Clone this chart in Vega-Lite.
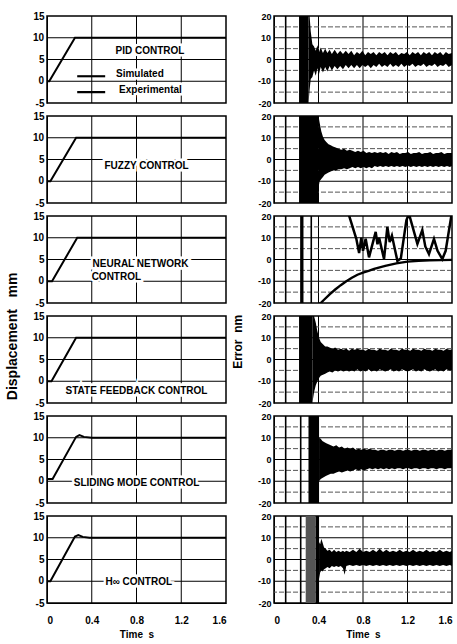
{
  "$schema": "https://vega.github.io/schema/vega-lite/v6.json",
  "padding": {"left": 5, "top": 11, "right": 0, "bottom": 0},
  "background": "white",
  "config": {
    "font": "Liberation Sans",
    "view": {"stroke": "black", "strokeWidth": 1.5},
    "axis": {
      "labelFont": "Liberation Sans", "labelFontWeight": "bold", "labelFontSize": 10, "labelColor": "black",
      "tickSize": 0, "domainColor": "black", "labelSeparation": -1000,
      "titleFont": "Liberation Sans", "titleFontWeight": "bold", "titleColor": "black", "titleFontSize": 10, "labelPadding": 3
    },
    "header": {"titleFont": "Liberation Sans", "titleFontWeight": "bold", "titleColor": "black"}
  },
  "datasets": {
    "left": [
      {"panel": 1, "kind": "line", "series": "Simulated", "t": 0, "v": 0},
      {"panel": 1, "kind": "line", "series": "Simulated", "t": 0.02, "v": 0},
      {"panel": 1, "kind": "line", "series": "Simulated", "t": 0.25, "v": 10},
      {"panel": 1, "kind": "line", "series": "Simulated", "t": 1.6, "v": 10},
      {"panel": 1, "kind": "line", "series": "legSim", "t": 0.27, "v": 1.15},
      {"panel": 1, "kind": "line", "series": "legSim", "t": 0.52, "v": 1.15},
      {"panel": 1, "kind": "line", "series": "legExp", "t": 0.27, "v": -2.5},
      {"panel": 1, "kind": "line", "series": "legExp", "t": 0.52, "v": -2.5},
      {"panel": 1, "kind": "text", "t": 0.92, "v": 7, "label": "PID CONTROL"},
      {"panel": 1, "kind": "text", "t": 0.83, "v": 1.7, "label": "Simulated"},
      {"panel": 1, "kind": "text", "t": 0.925, "v": -2.1, "label": "Experimental"},
      {"panel": 2, "kind": "line", "series": "Simulated", "t": 0, "v": 0},
      {"panel": 2, "kind": "line", "series": "Simulated", "t": 0.03, "v": 0},
      {"panel": 2, "kind": "line", "series": "Simulated", "t": 0.26, "v": 10},
      {"panel": 2, "kind": "line", "series": "Simulated", "t": 1.6, "v": 10},
      {"panel": 2, "kind": "text", "t": 0.89, "v": 3.6, "label": "FUZZY CONTROL"},
      {"panel": 3, "kind": "line", "series": "Simulated", "t": 0, "v": 0},
      {"panel": 3, "kind": "line", "series": "Simulated", "t": 0.045, "v": 0},
      {"panel": 3, "kind": "line", "series": "Simulated", "t": 0.27, "v": 10},
      {"panel": 3, "kind": "line", "series": "Simulated", "t": 1.6, "v": 10},
      {"panel": 3, "kind": "text", "t": 0.836, "v": 4, "label": "NEURAL NETWORK"},
      {"panel": 3, "kind": "text", "t": 0.62, "v": 0.9, "label": "CONTROL"},
      {"panel": 4, "kind": "line", "series": "Simulated", "t": 0, "v": 0},
      {"panel": 4, "kind": "line", "series": "Simulated", "t": 0.04, "v": 0},
      {"panel": 4, "kind": "line", "series": "Simulated", "t": 0.26, "v": 10},
      {"panel": 4, "kind": "line", "series": "Simulated", "t": 1.6, "v": 10},
      {"panel": 4, "kind": "text", "t": 0.8, "v": -2.3, "label": "STATE FEEDBACK CONTROL"},
      {"panel": 5, "kind": "line", "series": "Simulated", "t": 0, "v": 0.5},
      {"panel": 5, "kind": "line", "series": "Simulated", "t": 0.05, "v": 0.5},
      {"panel": 5, "kind": "line", "series": "Simulated", "t": 0.26, "v": 10.2},
      {"panel": 5, "kind": "line", "series": "Simulated", "t": 0.29, "v": 10.6},
      {"panel": 5, "kind": "line", "series": "Simulated", "t": 0.33, "v": 10.2},
      {"panel": 5, "kind": "line", "series": "Simulated", "t": 0.4, "v": 10},
      {"panel": 5, "kind": "line", "series": "Simulated", "t": 1.6, "v": 10},
      {"panel": 5, "kind": "text", "t": 0.8, "v": -0.3, "label": "SLIDING MODE CONTROL"},
      {"panel": 6, "kind": "line", "series": "Simulated", "t": 0, "v": 0},
      {"panel": 6, "kind": "line", "series": "Simulated", "t": 0.03, "v": 0},
      {"panel": 6, "kind": "line", "series": "Simulated", "t": 0.25, "v": 10.3},
      {"panel": 6, "kind": "line", "series": "Simulated", "t": 0.28, "v": 10.6},
      {"panel": 6, "kind": "line", "series": "Simulated", "t": 0.32, "v": 10.2},
      {"panel": 6, "kind": "line", "series": "Simulated", "t": 0.38, "v": 10},
      {"panel": 6, "kind": "line", "series": "Simulated", "t": 1.6, "v": 10},
      {"panel": 6, "kind": "text", "t": 0.82, "v": -0.2, "label": "H∞ CONTROL"}
    ],
    "right": [
      {"panel": 1, "kind": "vline", "t": 0.105},
      {"panel": 1, "kind": "block", "t": 0.225, "t2": 0.31, "shade": "solid"},
      {"panel": 2, "kind": "vline", "t": 0.105},
      {"panel": 2, "kind": "block", "t": 0.225, "t2": 0.4, "shade": "solid"},
      {"panel": 3, "kind": "vline", "t": 0.105},
      {"panel": 3, "kind": "vline", "t": 0.335},
      {"panel": 3, "kind": "block", "t": 0.235, "t2": 0.265, "shade": "solid"},
      {"panel": 4, "kind": "vline", "t": 0.105},
      {"panel": 4, "kind": "block", "t": 0.225, "t2": 0.345, "shade": "solid"},
      {"panel": 5, "kind": "vline", "t": 0.105},
      {"panel": 5, "kind": "vline", "t": 0.24},
      {"panel": 5, "kind": "block", "t": 0.31, "t2": 0.405, "shade": "solid"},
      {"panel": 6, "kind": "vline", "t": 0.105},
      {"panel": 6, "kind": "vline", "t": 0.24},
      {"panel": 6, "kind": "block", "t": 0.285, "t2": 0.375, "shade": "dense"},
      {"panel": 6, "kind": "block", "t": 0.375, "t2": 0.405, "shade": "solid"},

      {"panel": 1, "kind": "env", "t": 0.31, "lo": -20, "hi": 20},
      {"panel": 1, "kind": "env", "t": 0.32, "lo": -14, "hi": 20},
      {"panel": 1, "kind": "env", "t": 0.33, "lo": -9, "hi": 13},
      {"panel": 1, "kind": "env", "t": 0.345, "lo": -8, "hi": 7},
      {"panel": 1, "kind": "env", "t": 0.36, "lo": -5, "hi": 6},
      {"panel": 1, "kind": "env", "t": 0.375, "lo": -7.5, "hi": 4},
      {"panel": 1, "kind": "env", "t": 0.39, "lo": -4, "hi": 6.5},
      {"panel": 1, "kind": "env", "t": 0.405, "lo": -6.5, "hi": 3.5},
      {"panel": 1, "kind": "env", "t": 0.42, "lo": -3.5, "hi": 5.5},
      {"panel": 1, "kind": "env", "t": 0.44, "lo": -6, "hi": 3},
      {"panel": 1, "kind": "env", "t": 0.46, "lo": -3.5, "hi": 5},
      {"panel": 1, "kind": "env", "t": 0.48, "lo": -5.5, "hi": 3},
      {"panel": 1, "kind": "env", "t": 0.5, "lo": -3, "hi": 4.5},
      {"panel": 1, "kind": "env", "t": 0.52, "lo": -5, "hi": 2.5},
      {"panel": 1, "kind": "env", "t": 0.545, "lo": -3, "hi": 4.5},
      {"panel": 1, "kind": "env", "t": 0.57, "lo": -4.5, "hi": 2.5},
      {"panel": 1, "kind": "env", "t": 0.595, "lo": -3, "hi": 4},
      {"panel": 1, "kind": "env", "t": 0.62, "lo": -4.5, "hi": 2.5},
      {"panel": 1, "kind": "env", "t": 0.645, "lo": -2.5, "hi": 4},
      {"panel": 1, "kind": "env", "t": 0.67, "lo": -4, "hi": 2.5},
      {"panel": 1, "kind": "env", "t": 0.695, "lo": -2.5, "hi": 4},
      {"panel": 1, "kind": "env", "t": 0.72, "lo": -4, "hi": 2},
      {"panel": 1, "kind": "env", "t": 0.745, "lo": -2.5, "hi": 3.5},
      {"panel": 1, "kind": "env", "t": 0.77, "lo": -4, "hi": 2.5},
      {"panel": 1, "kind": "env", "t": 0.795, "lo": -2.5, "hi": 4},
      {"panel": 1, "kind": "env", "t": 0.82, "lo": -3.5, "hi": 2},
      {"panel": 1, "kind": "env", "t": 0.845, "lo": -2.5, "hi": 3.5},
      {"panel": 1, "kind": "env", "t": 0.87, "lo": -4, "hi": 2.5},
      {"panel": 1, "kind": "env", "t": 0.895, "lo": -2.5, "hi": 3.5},
      {"panel": 1, "kind": "env", "t": 0.92, "lo": -3.5, "hi": 2},
      {"panel": 1, "kind": "env", "t": 0.945, "lo": -2, "hi": 3.5},
      {"panel": 1, "kind": "env", "t": 0.97, "lo": -3.5, "hi": 2.5},
      {"panel": 1, "kind": "env", "t": 0.995, "lo": -2.5, "hi": 3.5},
      {"panel": 1, "kind": "env", "t": 1.02, "lo": -3.5, "hi": 2},
      {"panel": 1, "kind": "env", "t": 1.045, "lo": -2, "hi": 3.5},
      {"panel": 1, "kind": "env", "t": 1.07, "lo": -3.5, "hi": 2.5},
      {"panel": 1, "kind": "env", "t": 1.095, "lo": -2.5, "hi": 3.5},
      {"panel": 1, "kind": "env", "t": 1.12, "lo": -3.5, "hi": 2},
      {"panel": 1, "kind": "env", "t": 1.145, "lo": -2, "hi": 3},
      {"panel": 1, "kind": "env", "t": 1.17, "lo": -3.5, "hi": 2.5},
      {"panel": 1, "kind": "env", "t": 1.195, "lo": -2.5, "hi": 3.5},
      {"panel": 1, "kind": "env", "t": 1.22, "lo": -3, "hi": 2},
      {"panel": 1, "kind": "env", "t": 1.245, "lo": -2, "hi": 3.5},
      {"panel": 1, "kind": "env", "t": 1.27, "lo": -3.5, "hi": 2.5},
      {"panel": 1, "kind": "env", "t": 1.295, "lo": -2.5, "hi": 3.5},
      {"panel": 1, "kind": "env", "t": 1.32, "lo": -3, "hi": 2},
      {"panel": 1, "kind": "env", "t": 1.345, "lo": -2, "hi": 3.5},
      {"panel": 1, "kind": "env", "t": 1.37, "lo": -3.5, "hi": 2.5},
      {"panel": 1, "kind": "env", "t": 1.395, "lo": -2.5, "hi": 3.5},
      {"panel": 1, "kind": "env", "t": 1.42, "lo": -3, "hi": 2},
      {"panel": 1, "kind": "env", "t": 1.445, "lo": -2, "hi": 3.5},
      {"panel": 1, "kind": "env", "t": 1.47, "lo": -3.5, "hi": 2.5},
      {"panel": 1, "kind": "env", "t": 1.495, "lo": -2.5, "hi": 3.5},
      {"panel": 1, "kind": "env", "t": 1.52, "lo": -3, "hi": 2},
      {"panel": 1, "kind": "env", "t": 1.545, "lo": -2, "hi": 3.5},
      {"panel": 1, "kind": "env", "t": 1.57, "lo": -3.5, "hi": 2.5},
      {"panel": 1, "kind": "env", "t": 1.6, "lo": -2.5, "hi": 3},

      {"panel": 2, "kind": "env", "t": 0.4, "lo": -13, "hi": 20},
      {"panel": 2, "kind": "env", "t": 0.41, "lo": -10, "hi": 17},
      {"panel": 2, "kind": "env", "t": 0.425, "lo": -9, "hi": 13},
      {"panel": 2, "kind": "env", "t": 0.44, "lo": -8, "hi": 10.5},
      {"panel": 2, "kind": "env", "t": 0.455, "lo": -7, "hi": 9},
      {"panel": 2, "kind": "env", "t": 0.47, "lo": -6.5, "hi": 8},
      {"panel": 2, "kind": "env", "t": 0.49, "lo": -6, "hi": 7},
      {"panel": 2, "kind": "env", "t": 0.51, "lo": -5.5, "hi": 6.5},
      {"panel": 2, "kind": "env", "t": 0.53, "lo": -5, "hi": 6},
      {"panel": 2, "kind": "env", "t": 0.555, "lo": -5, "hi": 5.5},
      {"panel": 2, "kind": "env", "t": 0.58, "lo": -4.5, "hi": 5},
      {"panel": 2, "kind": "env", "t": 0.605, "lo": -4.5, "hi": 4.5},
      {"panel": 2, "kind": "env", "t": 0.63, "lo": -4, "hi": 5},
      {"panel": 2, "kind": "env", "t": 0.655, "lo": -4.5, "hi": 4},
      {"panel": 2, "kind": "env", "t": 0.68, "lo": -4, "hi": 4.5},
      {"panel": 2, "kind": "env", "t": 0.705, "lo": -3.5, "hi": 4},
      {"panel": 2, "kind": "env", "t": 0.73, "lo": -4, "hi": 3.5},
      {"panel": 2, "kind": "env", "t": 0.755, "lo": -3.5, "hi": 4},
      {"panel": 2, "kind": "env", "t": 0.78, "lo": -4, "hi": 3.5},
      {"panel": 2, "kind": "env", "t": 0.805, "lo": -3.5, "hi": 4},
      {"panel": 2, "kind": "env", "t": 0.83, "lo": -4, "hi": 3},
      {"panel": 2, "kind": "env", "t": 0.855, "lo": -3.5, "hi": 3.5},
      {"panel": 2, "kind": "env", "t": 0.88, "lo": -4, "hi": 3},
      {"panel": 2, "kind": "env", "t": 0.905, "lo": -3, "hi": 3.5},
      {"panel": 2, "kind": "env", "t": 0.93, "lo": -3.5, "hi": 3},
      {"panel": 2, "kind": "env", "t": 0.955, "lo": -3, "hi": 3.5},
      {"panel": 2, "kind": "env", "t": 0.98, "lo": -3.5, "hi": 3},
      {"panel": 2, "kind": "env", "t": 1.005, "lo": -3, "hi": 3.5},
      {"panel": 2, "kind": "env", "t": 1.03, "lo": -3.5, "hi": 2.5},
      {"panel": 2, "kind": "env", "t": 1.055, "lo": -3, "hi": 3.5},
      {"panel": 2, "kind": "env", "t": 1.08, "lo": -3.5, "hi": 3},
      {"panel": 2, "kind": "env", "t": 1.105, "lo": -3, "hi": 3.5},
      {"panel": 2, "kind": "env", "t": 1.13, "lo": -3.5, "hi": 2.5},
      {"panel": 2, "kind": "env", "t": 1.155, "lo": -3, "hi": 3},
      {"panel": 2, "kind": "env", "t": 1.18, "lo": -3.5, "hi": 3},
      {"panel": 2, "kind": "env", "t": 1.205, "lo": -3, "hi": 3.5},
      {"panel": 2, "kind": "env", "t": 1.23, "lo": -3.5, "hi": 2.5},
      {"panel": 2, "kind": "env", "t": 1.255, "lo": -3, "hi": 3},
      {"panel": 2, "kind": "env", "t": 1.28, "lo": -3.5, "hi": 3},
      {"panel": 2, "kind": "env", "t": 1.305, "lo": -3, "hi": 3.5},
      {"panel": 2, "kind": "env", "t": 1.33, "lo": -3.5, "hi": 2.5},
      {"panel": 2, "kind": "env", "t": 1.355, "lo": -3, "hi": 3},
      {"panel": 2, "kind": "env", "t": 1.38, "lo": -3.5, "hi": 3},
      {"panel": 2, "kind": "env", "t": 1.405, "lo": -3, "hi": 3.5},
      {"panel": 2, "kind": "env", "t": 1.43, "lo": -3.5, "hi": 2.5},
      {"panel": 2, "kind": "env", "t": 1.455, "lo": -3, "hi": 3},
      {"panel": 2, "kind": "env", "t": 1.48, "lo": -3.5, "hi": 3},
      {"panel": 2, "kind": "env", "t": 1.505, "lo": -3, "hi": 3.5},
      {"panel": 2, "kind": "env", "t": 1.53, "lo": -3.5, "hi": 2.5},
      {"panel": 2, "kind": "env", "t": 1.555, "lo": -3, "hi": 3},
      {"panel": 2, "kind": "env", "t": 1.58, "lo": -3.5, "hi": 3},
      {"panel": 2, "kind": "env", "t": 1.6, "lo": -3, "hi": 3},

      {"panel": 3, "kind": "nn", "series": "curve", "t": 0.4, "v": -20.5},
      {"panel": 3, "kind": "nn", "series": "curve", "t": 0.42, "v": -20},
      {"panel": 3, "kind": "nn", "series": "curve", "t": 0.45, "v": -18.5},
      {"panel": 3, "kind": "nn", "series": "curve", "t": 0.5, "v": -16},
      {"panel": 3, "kind": "nn", "series": "curve", "t": 0.55, "v": -13.8},
      {"panel": 3, "kind": "nn", "series": "curve", "t": 0.6, "v": -11.8},
      {"panel": 3, "kind": "nn", "series": "curve", "t": 0.65, "v": -10},
      {"panel": 3, "kind": "nn", "series": "curve", "t": 0.7, "v": -8.4},
      {"panel": 3, "kind": "nn", "series": "curve", "t": 0.75, "v": -7},
      {"panel": 3, "kind": "nn", "series": "curve", "t": 0.8, "v": -6},
      {"panel": 3, "kind": "nn", "series": "curve", "t": 0.85, "v": -5.2},
      {"panel": 3, "kind": "nn", "series": "curve", "t": 0.9, "v": -4.3},
      {"panel": 3, "kind": "nn", "series": "curve", "t": 1.0, "v": -2.9},
      {"panel": 3, "kind": "nn", "series": "curve", "t": 1.1, "v": -1.8},
      {"panel": 3, "kind": "nn", "series": "curve", "t": 1.2, "v": -1.0},
      {"panel": 3, "kind": "nn", "series": "curve", "t": 1.3, "v": -0.6},
      {"panel": 3, "kind": "nn", "series": "curve", "t": 1.4, "v": -0.4},
      {"panel": 3, "kind": "nn", "series": "curve", "t": 1.5, "v": -0.3},
      {"panel": 3, "kind": "nn", "series": "curve", "t": 1.6, "v": -0.2},
      {"panel": 3, "kind": "nn", "series": "saw", "t": 0.67, "v": 21},
      {"panel": 3, "kind": "nn", "series": "saw", "t": 0.74, "v": 9.5},
      {"panel": 3, "kind": "nn", "series": "saw", "t": 0.765, "v": 3},
      {"panel": 3, "kind": "nn", "series": "saw", "t": 0.785, "v": 10},
      {"panel": 3, "kind": "nn", "series": "saw", "t": 0.8, "v": 4},
      {"panel": 3, "kind": "nn", "series": "saw", "t": 0.824, "v": 9.5},
      {"panel": 3, "kind": "nn", "series": "saw", "t": 0.854, "v": 1},
      {"panel": 3, "kind": "nn", "series": "saw", "t": 0.914, "v": 12.7},
      {"panel": 3, "kind": "nn", "series": "saw", "t": 0.93, "v": 7},
      {"panel": 3, "kind": "nn", "series": "saw", "t": 0.945, "v": 10},
      {"panel": 3, "kind": "nn", "series": "saw", "t": 0.989, "v": 0.2},
      {"panel": 3, "kind": "nn", "series": "saw", "t": 1.019, "v": 15},
      {"panel": 3, "kind": "nn", "series": "saw", "t": 1.04, "v": 8},
      {"panel": 3, "kind": "nn", "series": "saw", "t": 1.06, "v": 11},
      {"panel": 3, "kind": "nn", "series": "saw", "t": 1.109, "v": -0.6},
      {"panel": 3, "kind": "nn", "series": "saw", "t": 1.14, "v": 0.5},
      {"panel": 3, "kind": "nn", "series": "saw", "t": 1.19, "v": 18},
      {"panel": 3, "kind": "nn", "series": "saw", "t": 1.213, "v": 21},
      {"panel": 3, "kind": "nn", "series": "saw", "t": 1.289, "v": 7.2},
      {"panel": 3, "kind": "nn", "series": "saw", "t": 1.333, "v": 13.5},
      {"panel": 3, "kind": "nn", "series": "saw", "t": 1.36, "v": 6},
      {"panel": 3, "kind": "nn", "series": "saw", "t": 1.393, "v": 2.5},
      {"panel": 3, "kind": "nn", "series": "saw", "t": 1.438, "v": 9.5},
      {"panel": 3, "kind": "nn", "series": "saw", "t": 1.47, "v": 4},
      {"panel": 3, "kind": "nn", "series": "saw", "t": 1.513, "v": 0.2},
      {"panel": 3, "kind": "nn", "series": "saw", "t": 1.543, "v": 4},
      {"panel": 3, "kind": "nn", "series": "saw", "t": 1.597, "v": 21},

      {"panel": 4, "kind": "env", "t": 0.345, "lo": -20, "hi": 20},
      {"panel": 4, "kind": "env", "t": 0.36, "lo": -15, "hi": 20},
      {"panel": 4, "kind": "env", "t": 0.375, "lo": -12, "hi": 17},
      {"panel": 4, "kind": "env", "t": 0.39, "lo": -10, "hi": 13},
      {"panel": 4, "kind": "env", "t": 0.405, "lo": -8.5, "hi": 10},
      {"panel": 4, "kind": "env", "t": 0.42, "lo": -7.5, "hi": 8},
      {"panel": 4, "kind": "env", "t": 0.44, "lo": -7, "hi": 7},
      {"panel": 4, "kind": "env", "t": 0.46, "lo": -6.5, "hi": 6},
      {"panel": 4, "kind": "env", "t": 0.48, "lo": -6, "hi": 6},
      {"panel": 4, "kind": "env", "t": 0.5, "lo": -5.5, "hi": 5.5},
      {"panel": 4, "kind": "env", "t": 0.525, "lo": -6, "hi": 5},
      {"panel": 4, "kind": "env", "t": 0.55, "lo": -5, "hi": 5.5},
      {"panel": 4, "kind": "env", "t": 0.575, "lo": -5.5, "hi": 4.5},
      {"panel": 4, "kind": "env", "t": 0.6, "lo": -5, "hi": 5},
      {"panel": 4, "kind": "env", "t": 0.625, "lo": -5.5, "hi": 4.5},
      {"panel": 4, "kind": "env", "t": 0.65, "lo": -5, "hi": 5},
      {"panel": 4, "kind": "env", "t": 0.675, "lo": -5.5, "hi": 4},
      {"panel": 4, "kind": "env", "t": 0.7, "lo": -5, "hi": 5},
      {"panel": 4, "kind": "env", "t": 0.725, "lo": -5.5, "hi": 4.5},
      {"panel": 4, "kind": "env", "t": 0.75, "lo": -4.5, "hi": 5},
      {"panel": 4, "kind": "env", "t": 0.775, "lo": -5.5, "hi": 4.5},
      {"panel": 4, "kind": "env", "t": 0.8, "lo": -5, "hi": 4.5},
      {"panel": 4, "kind": "env", "t": 0.825, "lo": -5.5, "hi": 4},
      {"panel": 4, "kind": "env", "t": 0.85, "lo": -4.5, "hi": 5},
      {"panel": 4, "kind": "env", "t": 0.875, "lo": -5.5, "hi": 4.5},
      {"panel": 4, "kind": "env", "t": 0.9, "lo": -5, "hi": 4.5},
      {"panel": 4, "kind": "env", "t": 0.925, "lo": -5.5, "hi": 4},
      {"panel": 4, "kind": "env", "t": 0.95, "lo": -4.5, "hi": 5},
      {"panel": 4, "kind": "env", "t": 0.975, "lo": -5, "hi": 4.5},
      {"panel": 4, "kind": "env", "t": 1.0, "lo": -5.5, "hi": 4.5},
      {"panel": 4, "kind": "env", "t": 1.025, "lo": -5, "hi": 4},
      {"panel": 4, "kind": "env", "t": 1.05, "lo": -4.5, "hi": 5},
      {"panel": 4, "kind": "env", "t": 1.075, "lo": -5.5, "hi": 4.5},
      {"panel": 4, "kind": "env", "t": 1.1, "lo": -5, "hi": 4.5},
      {"panel": 4, "kind": "env", "t": 1.125, "lo": -5.5, "hi": 4},
      {"panel": 4, "kind": "env", "t": 1.15, "lo": -4.5, "hi": 5},
      {"panel": 4, "kind": "env", "t": 1.175, "lo": -5, "hi": 4.5},
      {"panel": 4, "kind": "env", "t": 1.2, "lo": -5.5, "hi": 4.5},
      {"panel": 4, "kind": "env", "t": 1.225, "lo": -5, "hi": 4},
      {"panel": 4, "kind": "env", "t": 1.25, "lo": -4.5, "hi": 5},
      {"panel": 4, "kind": "env", "t": 1.275, "lo": -5.5, "hi": 4.5},
      {"panel": 4, "kind": "env", "t": 1.3, "lo": -5, "hi": 4.5},
      {"panel": 4, "kind": "env", "t": 1.325, "lo": -5.5, "hi": 4},
      {"panel": 4, "kind": "env", "t": 1.35, "lo": -4.5, "hi": 5},
      {"panel": 4, "kind": "env", "t": 1.375, "lo": -5, "hi": 4.5},
      {"panel": 4, "kind": "env", "t": 1.4, "lo": -5.5, "hi": 4.5},
      {"panel": 4, "kind": "env", "t": 1.425, "lo": -5, "hi": 4},
      {"panel": 4, "kind": "env", "t": 1.45, "lo": -4.5, "hi": 5},
      {"panel": 4, "kind": "env", "t": 1.475, "lo": -5.5, "hi": 4.5},
      {"panel": 4, "kind": "env", "t": 1.5, "lo": -5, "hi": 4.5},
      {"panel": 4, "kind": "env", "t": 1.525, "lo": -5.5, "hi": 4},
      {"panel": 4, "kind": "env", "t": 1.55, "lo": -4.5, "hi": 5},
      {"panel": 4, "kind": "env", "t": 1.575, "lo": -5, "hi": 4.5},
      {"panel": 4, "kind": "env", "t": 1.6, "lo": -5, "hi": 4.5},

      {"panel": 5, "kind": "env", "t": 0.405, "lo": -10, "hi": 10},
      {"panel": 5, "kind": "env", "t": 0.42, "lo": -9, "hi": 9.5},
      {"panel": 5, "kind": "env", "t": 0.435, "lo": -8.5, "hi": 8.5},
      {"panel": 5, "kind": "env", "t": 0.45, "lo": -8, "hi": 8},
      {"panel": 5, "kind": "env", "t": 0.47, "lo": -7.5, "hi": 7.5},
      {"panel": 5, "kind": "env", "t": 0.49, "lo": -7, "hi": 7},
      {"panel": 5, "kind": "env", "t": 0.51, "lo": -6.5, "hi": 6.5},
      {"panel": 5, "kind": "env", "t": 0.535, "lo": -6.5, "hi": 6},
      {"panel": 5, "kind": "env", "t": 0.56, "lo": -6, "hi": 6.5},
      {"panel": 5, "kind": "env", "t": 0.585, "lo": -5.5, "hi": 5.5},
      {"panel": 5, "kind": "env", "t": 0.61, "lo": -6, "hi": 6},
      {"panel": 5, "kind": "env", "t": 0.635, "lo": -5.5, "hi": 5},
      {"panel": 5, "kind": "env", "t": 0.66, "lo": -5, "hi": 5.5},
      {"panel": 5, "kind": "env", "t": 0.685, "lo": -5.5, "hi": 5},
      {"panel": 5, "kind": "env", "t": 0.71, "lo": -5, "hi": 5.5},
      {"panel": 5, "kind": "env", "t": 0.735, "lo": -4.5, "hi": 4.5},
      {"panel": 5, "kind": "env", "t": 0.76, "lo": -5, "hi": 5},
      {"panel": 5, "kind": "env", "t": 0.785, "lo": -4.5, "hi": 4.5},
      {"panel": 5, "kind": "env", "t": 0.81, "lo": -5, "hi": 5},
      {"panel": 5, "kind": "env", "t": 0.835, "lo": -4.5, "hi": 4.5},
      {"panel": 5, "kind": "env", "t": 0.86, "lo": -4, "hi": 5},
      {"panel": 5, "kind": "env", "t": 0.885, "lo": -4.5, "hi": 4.5},
      {"panel": 5, "kind": "env", "t": 0.91, "lo": -4, "hi": 4.5},
      {"panel": 5, "kind": "env", "t": 0.935, "lo": -4.5, "hi": 4},
      {"panel": 5, "kind": "env", "t": 0.96, "lo": -4, "hi": 4.5},
      {"panel": 5, "kind": "env", "t": 0.985, "lo": -4.5, "hi": 4.5},
      {"panel": 5, "kind": "env", "t": 1.01, "lo": -4, "hi": 4},
      {"panel": 5, "kind": "env", "t": 1.035, "lo": -4.5, "hi": 4.5},
      {"panel": 5, "kind": "env", "t": 1.06, "lo": -4, "hi": 4.5},
      {"panel": 5, "kind": "env", "t": 1.085, "lo": -4.5, "hi": 4},
      {"panel": 5, "kind": "env", "t": 1.11, "lo": -4, "hi": 4.5},
      {"panel": 5, "kind": "env", "t": 1.135, "lo": -4, "hi": 4.5},
      {"panel": 5, "kind": "env", "t": 1.16, "lo": -4.5, "hi": 4},
      {"panel": 5, "kind": "env", "t": 1.185, "lo": -4, "hi": 4.5},
      {"panel": 5, "kind": "env", "t": 1.21, "lo": -4, "hi": 4.5},
      {"panel": 5, "kind": "env", "t": 1.235, "lo": -4.5, "hi": 4},
      {"panel": 5, "kind": "env", "t": 1.26, "lo": -4, "hi": 4.5},
      {"panel": 5, "kind": "env", "t": 1.285, "lo": -4, "hi": 4.5},
      {"panel": 5, "kind": "env", "t": 1.31, "lo": -4.5, "hi": 4},
      {"panel": 5, "kind": "env", "t": 1.335, "lo": -4, "hi": 4.5},
      {"panel": 5, "kind": "env", "t": 1.36, "lo": -4, "hi": 4.5},
      {"panel": 5, "kind": "env", "t": 1.385, "lo": -4.5, "hi": 4},
      {"panel": 5, "kind": "env", "t": 1.41, "lo": -4, "hi": 4.5},
      {"panel": 5, "kind": "env", "t": 1.435, "lo": -4, "hi": 4.5},
      {"panel": 5, "kind": "env", "t": 1.46, "lo": -4.5, "hi": 4},
      {"panel": 5, "kind": "env", "t": 1.485, "lo": -4, "hi": 4.5},
      {"panel": 5, "kind": "env", "t": 1.51, "lo": -4, "hi": 4.5},
      {"panel": 5, "kind": "env", "t": 1.535, "lo": -4.5, "hi": 4},
      {"panel": 5, "kind": "env", "t": 1.56, "lo": -4, "hi": 4.5},
      {"panel": 5, "kind": "env", "t": 1.6, "lo": -4, "hi": 4.5},

      {"panel": 6, "kind": "env", "t": 0.405, "lo": -9, "hi": 8},
      {"panel": 6, "kind": "env", "t": 0.415, "lo": -6, "hi": 7},
      {"panel": 6, "kind": "env", "t": 0.425, "lo": -5, "hi": 9.5},
      {"panel": 6, "kind": "env", "t": 0.435, "lo": -5.5, "hi": 8},
      {"panel": 6, "kind": "env", "t": 0.45, "lo": -4.5, "hi": 5.5},
      {"panel": 6, "kind": "env", "t": 0.465, "lo": -4, "hi": 5},
      {"panel": 6, "kind": "env", "t": 0.48, "lo": -3.5, "hi": 4},
      {"panel": 6, "kind": "env", "t": 0.5, "lo": -4, "hi": 4.5},
      {"panel": 6, "kind": "env", "t": 0.52, "lo": -3, "hi": 3.5},
      {"panel": 6, "kind": "env", "t": 0.54, "lo": -3.5, "hi": 4.5},
      {"panel": 6, "kind": "env", "t": 0.56, "lo": -3, "hi": 3.5},
      {"panel": 6, "kind": "env", "t": 0.58, "lo": -3.5, "hi": 4},
      {"panel": 6, "kind": "env", "t": 0.6, "lo": -3, "hi": 3.5},
      {"panel": 6, "kind": "env", "t": 0.62, "lo": -4, "hi": 4},
      {"panel": 6, "kind": "env", "t": 0.635, "lo": -7, "hi": 3.5},
      {"panel": 6, "kind": "env", "t": 0.65, "lo": -3, "hi": 4},
      {"panel": 6, "kind": "env", "t": 0.68, "lo": -2.5, "hi": 3.5},
      {"panel": 6, "kind": "env", "t": 0.71, "lo": -3, "hi": 4.5},
      {"panel": 6, "kind": "env", "t": 0.74, "lo": -2.5, "hi": 3.5},
      {"panel": 6, "kind": "env", "t": 0.77, "lo": -3, "hi": 5},
      {"panel": 6, "kind": "env", "t": 0.8, "lo": -2.5, "hi": 3.5},
      {"panel": 6, "kind": "env", "t": 0.83, "lo": -3, "hi": 4},
      {"panel": 6, "kind": "env", "t": 0.86, "lo": -2.5, "hi": 3.5},
      {"panel": 6, "kind": "env", "t": 0.89, "lo": -3, "hi": 4.5},
      {"panel": 6, "kind": "env", "t": 0.92, "lo": -2.5, "hi": 3.5},
      {"panel": 6, "kind": "env", "t": 0.95, "lo": -3, "hi": 5},
      {"panel": 6, "kind": "env", "t": 0.98, "lo": -2.5, "hi": 3.5},
      {"panel": 6, "kind": "env", "t": 1.01, "lo": -3, "hi": 4.5},
      {"panel": 6, "kind": "env", "t": 1.04, "lo": -2.5, "hi": 3.5},
      {"panel": 6, "kind": "env", "t": 1.07, "lo": -3, "hi": 4},
      {"panel": 6, "kind": "env", "t": 1.1, "lo": -2.5, "hi": 3.5},
      {"panel": 6, "kind": "env", "t": 1.13, "lo": -3, "hi": 4.5},
      {"panel": 6, "kind": "env", "t": 1.16, "lo": -2.5, "hi": 3.5},
      {"panel": 6, "kind": "env", "t": 1.19, "lo": -3, "hi": 4},
      {"panel": 6, "kind": "env", "t": 1.22, "lo": -2.5, "hi": 3.5},
      {"panel": 6, "kind": "env", "t": 1.25, "lo": -3, "hi": 4.5},
      {"panel": 6, "kind": "env", "t": 1.28, "lo": -2.5, "hi": 3.5},
      {"panel": 6, "kind": "env", "t": 1.31, "lo": -3, "hi": 4},
      {"panel": 6, "kind": "env", "t": 1.34, "lo": -2.5, "hi": 3.5},
      {"panel": 6, "kind": "env", "t": 1.37, "lo": -3, "hi": 4.5},
      {"panel": 6, "kind": "env", "t": 1.4, "lo": -2.5, "hi": 3.5},
      {"panel": 6, "kind": "env", "t": 1.43, "lo": -3, "hi": 4},
      {"panel": 6, "kind": "env", "t": 1.46, "lo": -2.5, "hi": 3.5},
      {"panel": 6, "kind": "env", "t": 1.49, "lo": -3, "hi": 4.5},
      {"panel": 6, "kind": "env", "t": 1.52, "lo": -2.5, "hi": 3.5},
      {"panel": 6, "kind": "env", "t": 1.55, "lo": -3, "hi": 4},
      {"panel": 6, "kind": "env", "t": 1.58, "lo": -2.5, "hi": 3.5},
      {"panel": 6, "kind": "env", "t": 1.6, "lo": -3, "hi": 4}
    ]
  },
  "spacing": 3,
  "hconcat": [
    {
      "data": {"name": "left"},
      "facet": {"row": {"field": "panel", "type": "ordinal", "header": {"labels": false, "title": "Displacement\u00a0\u00a0\u00a0mm\u00a0\u00a0\u00a0\u00a0\u00a0\u00a0\u00a0\u00a0\u00a0\u00a0\u00a0\u2800", "titleFontSize": 14, "titlePadding": 2}}},
      "spacing": {"row": 13},
      "bounds": "flush",
      "spec": {
        "width": 179,
        "height": 87,
        "layer": [
          {
            "transform": [{"filter": "datum.kind === 'line' && datum.series === 'Simulated' && datum.t === 0"}],
            "mark": {"type": "rule", "color": "black", "strokeWidth": 1},
            "encoding": {"x": {"datum": 0.4, "type": "quantitative"}}
          },
          {
            "transform": [{"filter": "datum.kind === 'line' && datum.series === 'Simulated' && datum.t === 0"}],
            "mark": {"type": "rule", "color": "black", "strokeWidth": 1},
            "encoding": {"x": {"datum": 0.8, "type": "quantitative"}}
          },
          {
            "transform": [{"filter": "datum.kind === 'line' && datum.series === 'Simulated' && datum.t === 0"}],
            "mark": {"type": "rule", "color": "black", "strokeWidth": 1},
            "encoding": {"x": {"datum": 1.2, "type": "quantitative"}}
          },
          {
            "transform": [{"filter": "datum.kind === 'line' && datum.series === 'Simulated' && datum.t === 0"}],
            "mark": {"type": "rule", "color": "black", "strokeWidth": 1},
            "encoding": {"y": {"datum": 0, "type": "quantitative"}}
          },
          {
            "transform": [{"filter": "datum.kind === 'line' && datum.series === 'Simulated' && datum.t === 0"}],
            "mark": {"type": "rule", "color": "black", "strokeWidth": 1},
            "encoding": {"y": {"datum": 5, "type": "quantitative"}}
          },
          {
            "transform": [{"filter": "datum.kind === 'line' && datum.series === 'Simulated' && datum.t === 0"}],
            "mark": {"type": "rule", "color": "black", "strokeWidth": 1},
            "encoding": {"y": {"datum": 10, "type": "quantitative"}}
          },
          {
            "transform": [{"filter": "datum.kind === 'line' && datum.series === 'Simulated' && datum.t === 0"}],
            "mark": {"type": "text", "align": "right", "baseline": "middle", "dx": -3, "font": "Liberation Sans", "fontSize": 10, "fontWeight": "bold", "color": "black"},
            "encoding": {"x": {"datum": 0, "type": "quantitative"}, "y": {"datum": 0, "type": "quantitative"}, "text": {"value": "0"}}
          },
          {
            "transform": [{"filter": "datum.kind === 'line' && datum.series === 'Simulated' && datum.t === 0"}],
            "mark": {"type": "text", "align": "right", "baseline": "middle", "dx": -3, "font": "Liberation Sans", "fontSize": 10, "fontWeight": "bold", "color": "black"},
            "encoding": {"x": {"datum": 0, "type": "quantitative"}, "y": {"datum": 10, "type": "quantitative"}, "text": {"value": "10"}}
          },
          {
            "transform": [{"filter": "datum.kind === 'text'"}],
            "mark": {"type": "text", "font": "Liberation Sans", "fontSize": 10, "fontWeight": "bold", "fill": "white", "stroke": "white", "strokeWidth": 5},
            "encoding": {
              "x": {"field": "t", "type": "quantitative", "scale": {"domain": [0, 1.6], "nice": false},
                    "axis": {"values": [0, 0.4, 0.8, 1.2, 1.6], "grid": false, "labelOverlap": false, "title": "Time\u00a0\u00a0s", "labelExpr": "datum.value === 0 ? '0' : format(datum.value, '.1f')", "labelPadding": 12, "titlePadding": 4}},
              "y": {"field": "v", "type": "quantitative", "scale": {"domain": [-5, 15], "nice": false, "zero": false},
                    "axis": {"values": [-5, 5, 15], "grid": false, "labelOverlap": false, "title": null, "labelExpr": "replace(datum.label, '−', '-')"}},
              "text": {"field": "label"}
            }
          },
          {
            "transform": [{"filter": "datum.kind === 'line'"}],
            "mark": {"type": "line", "color": "black", "clip": true},
            "encoding": {
              "x": {"field": "t", "type": "quantitative"},
              "y": {"field": "v", "type": "quantitative"},
              "strokeWidth": {"field": "series", "type": "ordinal", "scale": {"domain": ["Simulated", "legSim", "legExp"], "range": [2, 2.5, 1.3]}, "legend": null}
            }
          },
          {
            "transform": [{"filter": "datum.kind === 'text'"}],
            "mark": {"type": "text", "font": "Liberation Sans", "fontSize": 10, "fontWeight": "bold", "fill": "black"},
            "encoding": {
              "x": {"field": "t", "type": "quantitative"},
              "y": {"field": "v", "type": "quantitative"},
              "text": {"field": "label"}
            }
          }
        ]
      }
    },
    {
      "data": {"name": "right"},
      "facet": {"row": {"field": "panel", "type": "ordinal", "header": {"labels": false, "title": "Error\u00a0\u00a0nm\u00a0\u00a0\u00a0\u00a0\u00a0\u00a0\u00a0\u00a0\u00a0\u00a0\u00a0\u00a0\u00a0\u00a0\u00a0\u00a0\u00a0\u2800", "titleFontSize": 12, "titlePadding": 2}}},
      "spacing": {"row": 13},
      "bounds": "flush",
      "spec": {
        "width": 178,
        "height": 87,
        "layer": [
          {
            "transform": [{"filter": "datum.kind === 'vline' && datum.t === 0.105"}],
            "mark": {"type": "rule", "color": "black", "strokeWidth": 1},
            "encoding": {"x": {"datum": 0.4, "type": "quantitative"}}
          },
          {
            "transform": [{"filter": "datum.kind === 'vline' && datum.t === 0.105"}],
            "mark": {"type": "rule", "color": "black", "strokeWidth": 1},
            "encoding": {"x": {"datum": 0.8, "type": "quantitative"}}
          },
          {
            "transform": [{"filter": "datum.kind === 'vline' && datum.t === 0.105"}],
            "mark": {"type": "rule", "color": "black", "strokeWidth": 1},
            "encoding": {"x": {"datum": 1.2, "type": "quantitative"}}
          },
          {
            "transform": [{"filter": "datum.kind === 'vline' && datum.t === 0.105"}],
            "mark": {"type": "rule", "color": "black", "strokeWidth": 1},
            "encoding": {"y": {"datum": -10, "type": "quantitative"}}
          },
          {
            "transform": [{"filter": "datum.kind === 'vline' && datum.t === 0.105"}],
            "mark": {"type": "rule", "color": "black", "strokeWidth": 1},
            "encoding": {"y": {"datum": 0, "type": "quantitative"}}
          },
          {
            "transform": [{"filter": "datum.kind === 'vline' && datum.t === 0.105"}],
            "mark": {"type": "rule", "color": "black", "strokeWidth": 1},
            "encoding": {"y": {"datum": 10, "type": "quantitative"}}
          },
          {
            "transform": [{"filter": "datum.kind === 'vline' && datum.t === 0.105"}],
            "mark": {"type": "rule", "color": "#555555", "strokeWidth": 1, "strokeDash": [5, 2]},
            "encoding": {"y": {"datum": -15, "type": "quantitative"}}
          },
          {
            "transform": [{"filter": "datum.kind === 'vline' && datum.t === 0.105"}],
            "mark": {"type": "rule", "color": "#555555", "strokeWidth": 1, "strokeDash": [5, 2]},
            "encoding": {"y": {"datum": -5, "type": "quantitative"}}
          },
          {
            "transform": [{"filter": "datum.kind === 'vline' && datum.t === 0.105"}],
            "mark": {"type": "rule", "color": "#555555", "strokeWidth": 1, "strokeDash": [5, 2]},
            "encoding": {"y": {"datum": 5, "type": "quantitative"}}
          },
          {
            "transform": [{"filter": "datum.kind === 'vline' && datum.t === 0.105"}],
            "mark": {"type": "rule", "color": "#555555", "strokeWidth": 1, "strokeDash": [5, 2]},
            "encoding": {"y": {"datum": 15, "type": "quantitative"}}
          },
          {
            "transform": [{"filter": "datum.kind === 'vline' && datum.t === 0.105"}],
            "mark": {"type": "text", "align": "right", "baseline": "middle", "dx": -3, "font": "Liberation Sans", "fontSize": 9, "fontWeight": "bold", "color": "black"},
            "encoding": {"x": {"datum": 0, "type": "quantitative"}, "y": {"datum": 10, "type": "quantitative"}, "text": {"value": "10"}}
          },
          {
            "transform": [{"filter": "datum.kind === 'vline' && datum.t === 0.105"}],
            "mark": {"type": "text", "align": "right", "baseline": "middle", "dx": -3, "font": "Liberation Sans", "fontSize": 9, "fontWeight": "bold", "color": "black"},
            "encoding": {"x": {"datum": 0, "type": "quantitative"}, "y": {"datum": -10, "type": "quantitative"}, "text": {"value": "-10"}}
          },
          {
            "transform": [{"filter": "datum.kind === 'block'"}],
            "mark": {"type": "rect"},
            "encoding": {
              "x": {"field": "t", "type": "quantitative", "scale": {"domain": [0, 1.6], "nice": false},
                    "axis": {"values": [0, 0.4, 0.8, 1.2, 1.6], "grid": false, "labelOverlap": false, "title": "Time\u00a0\u00a0s", "labelExpr": "datum.value === 0 ? '0' : format(datum.value, '.1f')", "labelPadding": 12, "titlePadding": 4}},
              "x2": {"field": "t2"},
              "color": {"field": "shade", "type": "nominal", "scale": {"domain": ["solid", "dense"], "range": ["black", "#555555"]}, "legend": null}
            }
          },
          {
            "transform": [{"filter": "datum.kind === 'vline'"}],
            "mark": {"type": "rule", "color": "black", "strokeWidth": 1.6},
            "encoding": {
              "x": {"field": "t", "type": "quantitative"}
            }
          },
          {
            "transform": [{"filter": "datum.kind === 'env'"}],
            "mark": {"type": "area", "color": "black", "clip": true, "opacity": 1},
            "encoding": {
              "x": {"field": "t", "type": "quantitative"},
              "y": {"field": "hi", "type": "quantitative", "scale": {"domain": [-20, 20], "nice": false, "zero": false},
                    "axis": {"values": [-20, 0, 20], "grid": false, "labelOverlap": false, "title": null, "labelFontSize": 9,
                             "labelExpr": "replace(datum.label, '−', '-')"}},
              "y2": {"field": "lo"}
            }
          },
          {
            "transform": [{"filter": "datum.kind === 'nn'"}],
            "mark": {"type": "line", "color": "black", "clip": true},
            "encoding": {
              "x": {"field": "t", "type": "quantitative"},
              "y": {"field": "v", "type": "quantitative"},
              "strokeWidth": {"field": "series", "type": "ordinal", "scale": {"domain": ["curve", "saw"], "range": [2, 3]}, "legend": null}
            }
          }
        ]
      }
    }
  ]
}
